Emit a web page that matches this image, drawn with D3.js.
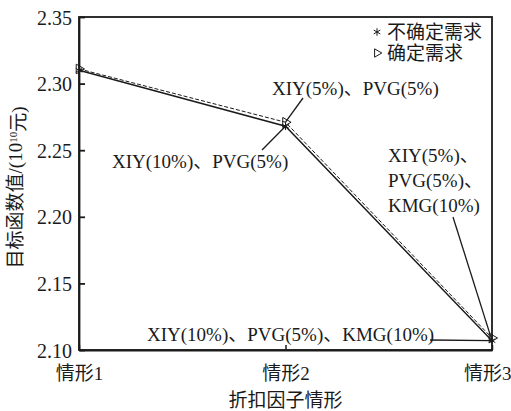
<!DOCTYPE html>
<html>
<head>
<meta charset="utf-8">
<script src="https://cdn.jsdelivr.net/npm/d3@7"></script>
<style>
  html, body { margin: 0; padding: 0; background: #fff; }
  svg { display: block; }
</style>
</head>
<body>
<svg id="chart" width="511" height="411"></svg>
<script>
// Objective value per discount-factor scenario (unit: 10^10 yuan)
const categories = ["情形1", "情形2", "情形3"];
const uncertainDemand = [2.310, 2.268, 2.107];
const certainDemand = [2.311, 2.271, 2.109];
const yTicks = [2.10, 2.15, 2.20, 2.25, 2.30, 2.35];
const seriesNames = ["不确定需求", "确定需求"];

const width = 511, height = 411;
const margin = { top: 17, right: 19, bottom: 61, left: 79 };
const FONT = '"Liberation Serif", "Noto Sans CJK SC", serif';
const ink = "#1a1a1a";

const svg = d3.select("#chart")
  .style("font-family", FONT);

const x = d3.scalePoint().domain(categories).range([margin.left, width - margin.right]).padding(0);
const y = d3.scaleLinear().domain([2.10, 2.35]).range([height - margin.bottom, margin.top]);

function txt(sel, size) {
  return sel.style("font-family", FONT).style("font-size", size + "px").attr("fill", ink);
}

// Frame
svg.append("rect")
  .attr("x", margin.left).attr("y", margin.top)
  .attr("width", width - margin.left - margin.right)
  .attr("height", height - margin.bottom - margin.top)
  .attr("fill", "none").attr("stroke", ink).attr("stroke-width", 1.8);

// Y axis, ticks pointing inward
const yAxis = svg.append("g")
  .attr("transform", `translate(${margin.left},0)`)
  .call(d3.axisRight(y).tickValues(yTicks).tickFormat(d3.format(".2f")).tickSize(6).tickSizeOuter(0));
yAxis.attr("font-family", null).attr("font-size", null);
yAxis.select(".domain").attr("stroke", ink).attr("stroke-width", 1.8);
yAxis.selectAll(".tick line").attr("stroke", ink).attr("stroke-width", 1.8);
txt(yAxis.selectAll(".tick text"), 20)
  .attr("x", -7).attr("text-anchor", "end").attr("dy", "0.35em");

// X axis, ticks pointing inward
const xAxis = svg.append("g")
  .attr("transform", `translate(0,${height - margin.bottom})`)
  .call(d3.axisTop(x).tickSize(5).tickSizeOuter(0));
xAxis.attr("font-family", null).attr("font-size", null);
xAxis.select(".domain").attr("stroke", ink).attr("stroke-width", 1.8);
xAxis.selectAll(".tick line").attr("stroke", ink).attr("stroke-width", 1.5);
txt(xAxis.selectAll(".tick text"), 19)
  .attr("y", 24).attr("dy", "0.32em")
  .attr("text-anchor", (d, i) => i === categories.length - 1 ? "end" : "middle")
  .attr("x", (d, i) => i === categories.length - 1 ? margin.right : 0);

// Axis titles
txt(svg.append("text"), 19)
  .attr("x", (margin.left + width - margin.right) / 2)
  .attr("y", 400).attr("dy", "0.35em").attr("text-anchor", "middle")
  .text("折扣因子情形");

const yTitle = txt(svg.append("text"), 19)
  .attr("transform", `translate(15,${(margin.top + height - margin.bottom) / 2 + 4}) rotate(-90)`)
  .attr("text-anchor", "middle").attr("dy", "0.35em");
yTitle.append("tspan").text("目标函数值/(10");
yTitle.append("tspan").attr("dy", "-0.45em").style("font-size", "11px").text("10");
yTitle.append("tspan").attr("dy", "0.45em").text("元)");

// Series lines
const line = d3.line().x((d, i) => x(categories[i])).y(d => y(d));

svg.append("path").datum(certainDemand)
  .attr("d", line).attr("fill", "none")
  .attr("stroke", ink).attr("stroke-width", 1).attr("stroke-dasharray", "4,2");

svg.append("path").datum(uncertainDemand)
  .attr("d", line).attr("fill", "none")
  .attr("stroke", ink).attr("stroke-width", 1.4);

// Markers
const star = d3.symbol().type(d3.symbolAsterisk).size(40);
const tri = d3.symbol().type(d3.symbolTriangle).size(40);

svg.append("g").selectAll("path").data(certainDemand).join("path")
  .attr("d", tri)
  .attr("transform", (d, i) => `translate(${x(categories[i])},${y(d)}) rotate(90)`)
  .attr("fill", "none").attr("stroke", ink).attr("stroke-width", 1);

svg.append("g").selectAll("path").data(uncertainDemand).join("path")
  .attr("d", star)
  .attr("transform", (d, i) => `translate(${x(categories[i])},${y(d)})`)
  .attr("fill", "none").attr("stroke", ink).attr("stroke-width", 1);

// Legend
const legend = svg.append("g");
legend.append("path").attr("d", star).attr("transform", "translate(377,32)")
  .attr("fill", "none").attr("stroke", ink).attr("stroke-width", 1);
legend.append("path").attr("d", d3.symbol().type(d3.symbolTriangle).size(30))
  .attr("transform", "translate(377,53) rotate(90)")
  .attr("fill", "none").attr("stroke", ink).attr("stroke-width", 1);
txt(legend.selectAll("text").data(seriesNames).join("text"), 19)
  .attr("x", 387).attr("y", (d, i) => 32 + i * 21).attr("dy", "0.35em")
  .text(d => d);

// Annotations with leader lines
const annot = svg.append("g");
function leader(x1, y1, x2, y2) {
  annot.append("line").attr("x1", x1).attr("y1", y1).attr("x2", x2).attr("y2", y2)
    .attr("stroke", ink).attr("stroke-width", 1.3);
}
function label(tx, ty, lines) {
  const t = txt(annot.append("text"), 19);
  lines.forEach((s, k) => t.append("tspan").attr("x", tx).attr("y", ty + k * 25).attr("dy", "0.35em").text(s));
}

label(272, 88, ["XIY(5%)、PVG(5%)"]);
leader(303, 98, x(categories[1]), y(certainDemand[1]));

label(112, 161, ["XIY(10%)、PVG(5%)"]);
leader(262, 150, x(categories[1]), y(uncertainDemand[1]));

label(388, 155, ["XIY(5%)、", "PVG(5%)、", "KMG(10%)"]);
leader(453, 217, x(categories[2]), y(uncertainDemand[2]));

label(147, 334, ["XIY(10%)、PVG(5%)、KMG(10%)"]);
leader(430, 340, x(categories[2]), y(uncertainDemand[2]));
</script>
</body>
</html>
